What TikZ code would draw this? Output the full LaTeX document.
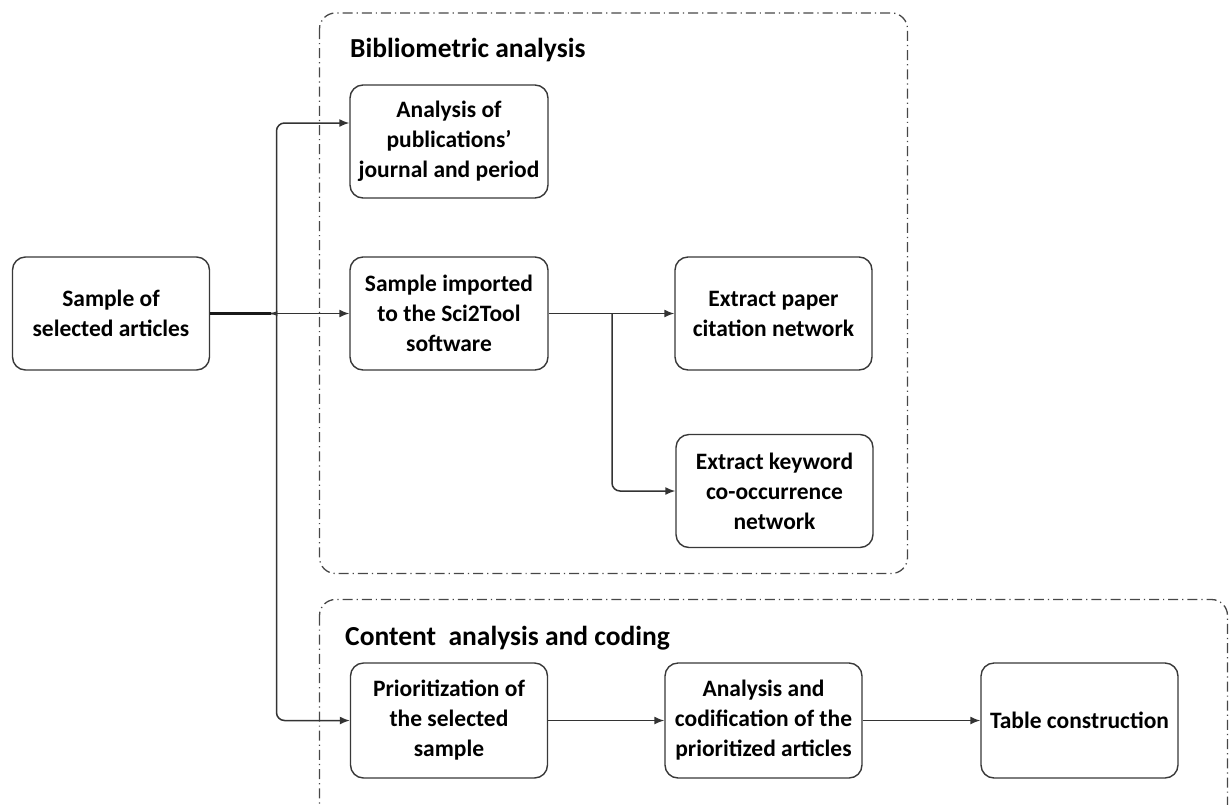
\documentclass[tikz,border=0pt]{standalone}
\usepackage{fontspec}
\setmainfont{Carlito}
\usetikzlibrary{arrows.meta}
\begin{document}
\begin{tikzpicture}[x=1pt,y=-1pt,
  box/.style={draw=black!78, line width=1.4pt, rounded corners=13pt, minimum width=198pt, minimum height=113pt, align=center, font=\bfseries\fontsize{23.5}{30}\selectfont, inner sep=1pt},
  grp/.style={draw=black!72, line width=1.3pt, rounded corners=16pt, dash pattern=on 10pt off 4pt on 1.2pt off 4pt},
  line/.style={draw=black!80, line width=1.5pt},
  conn/.style={line, -{Latex[length=10pt,width=8pt]}},
  title/.style={font=\bfseries\fontsize{27.5}{30}\selectfont, anchor=base west, inner sep=0pt}]
\useasboundingbox (0,0) rectangle (1229,804);
\begin{scope}
\clip (0,0) rectangle (1229,804);
\draw[grp] (319.5,13) rectangle (907.5,573.5);
\draw[grp] (319.5,599.5) rectangle (1227.5,840);
\end{scope}
\node[title] (t1) at (350,57) {Bibliometric analysis};
\node[title] (t2) at (345,645) {Content\ \ analysis and coding};

\node[box, minimum width=197pt] (s) at (111,313.5) {Sample of\\selected articles};
\node[box] (a) at (449,141.5) {Analysis of\\publications'\\journal and period};
\node[box] (b) at (449,313.5) {Sample imported\\to the Sci2Tool\\software};
\node[box, minimum width=197pt] (c) at (773.5,313.5) {Extract paper\\citation network};
\node[box, minimum width=197pt] (d) at (774.5,491) {Extract keyword\\co-occurrence\\network};
\node[box, minimum width=197pt, minimum height=115pt] (p) at (449,720.5) {Prioritization of\\the selected\\sample};
\node[box, minimum width=197pt, minimum height=115pt] (q) at (763.5,720.5) {Analysis and\\codification of the\\prioritized articles};
\node[box, minimum width=197pt, minimum height=115pt] (r) at (1079.5,720.5) {Table construction};

\coordinate (jl) at (271,313.5);
\coordinate (j) at (276.5,313.5);
\coordinate (k) at (612,313.5);
\draw[line, line width=2.2pt, draw=black!90] (s.east) -- (jl);
\draw[conn] (j) -- (b.west);
\draw[conn, rounded corners=8pt] (jl) .. controls (275.5,313.5) and (276.5,311) .. (276.5,306) |- ([yshift=18.5pt]a.west);
\draw[conn, rounded corners=8pt] (jl) .. controls (275.5,313.5) and (276.5,316) .. (276.5,321) |- (p.west);
\draw[conn] (b.east) -- (c.west);
\draw[conn, rounded corners=8pt] (k) |- (d.west);
\draw[conn] (p.east) -- (q.west);
\draw[conn] (q.east) -- (r.west);
\end{tikzpicture}
\end{document}
